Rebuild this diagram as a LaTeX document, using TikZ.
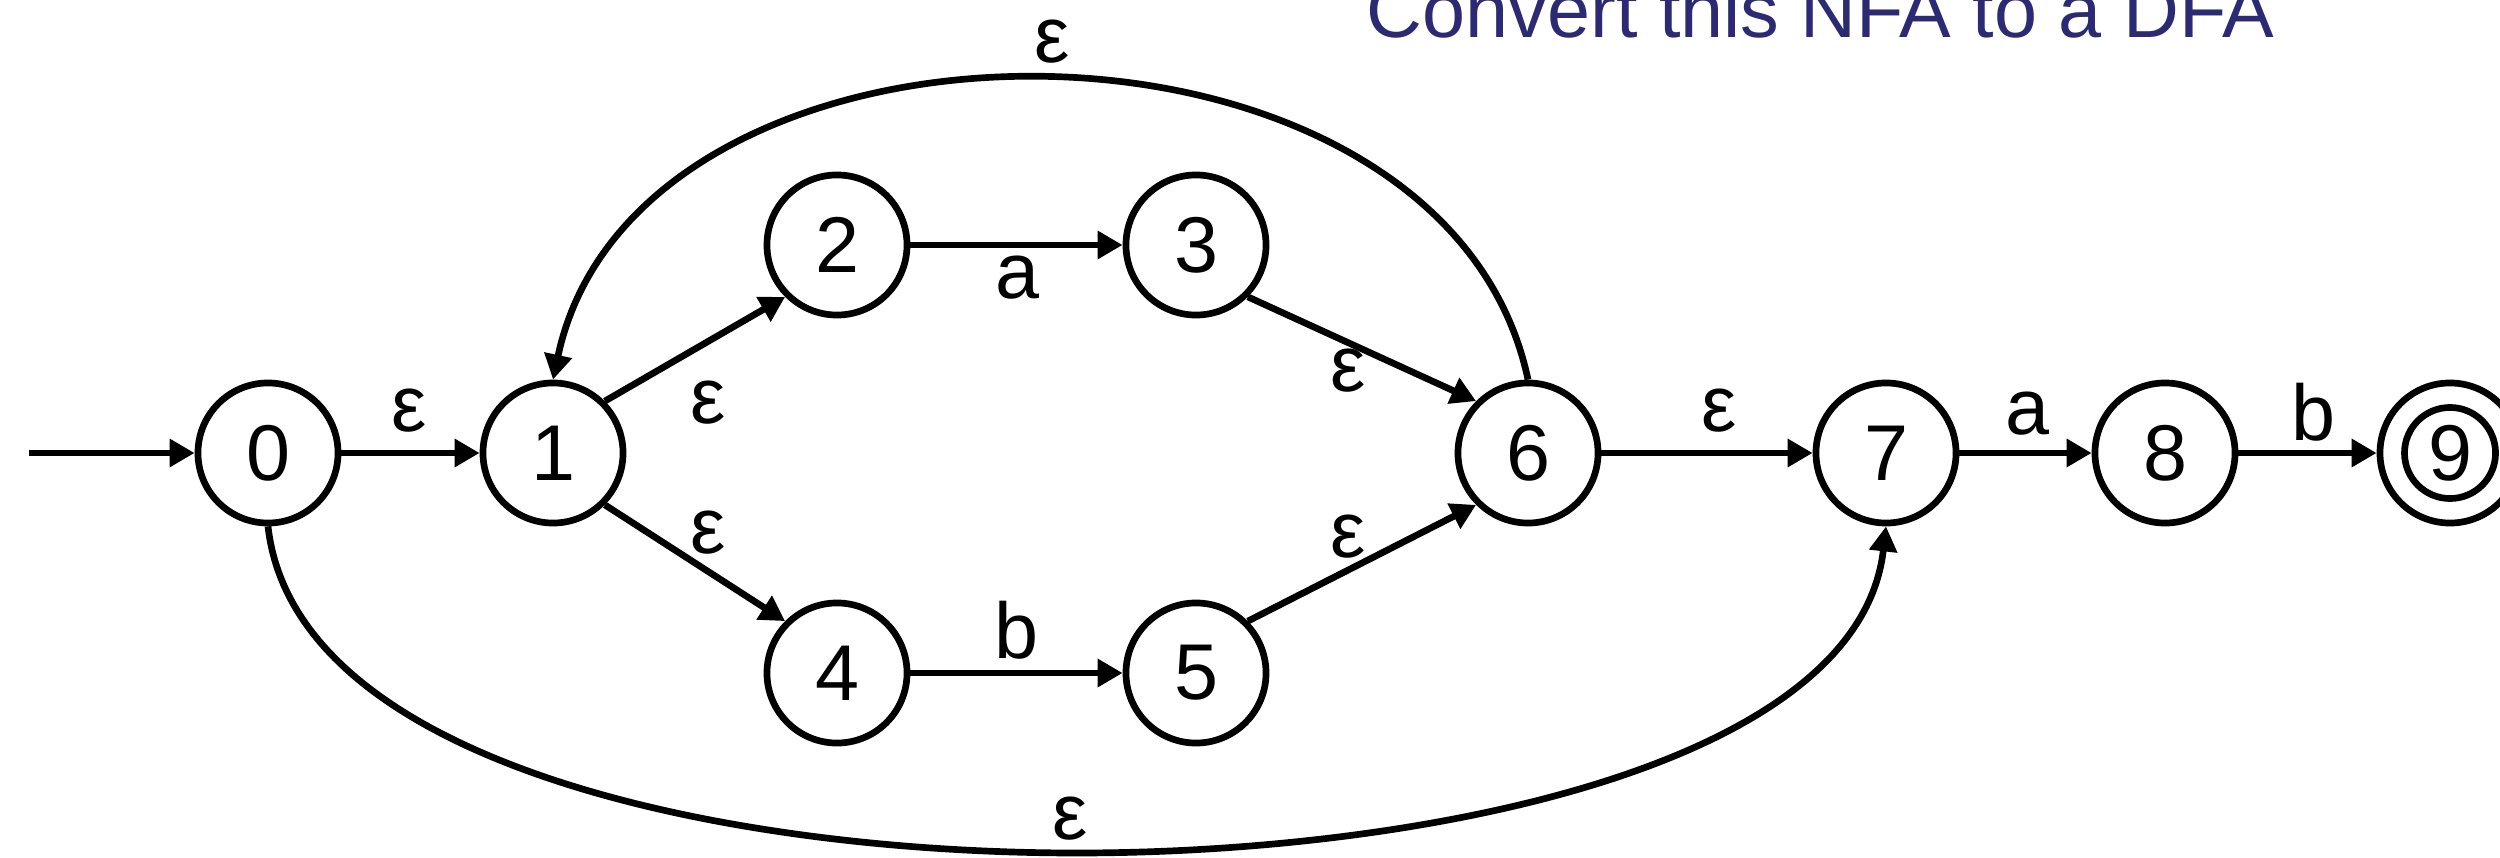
\documentclass[tikz,border=0pt]{standalone}
\usepackage{fontspec}
\setmainfont{Liberation Sans}
\usetikzlibrary{arrows.meta}
\definecolor{titleblue}{RGB}{43,42,114}
\begin{document}
\begin{tikzpicture}[x=0.01cm, y=-0.01cm,
  state/.style={circle, draw, line width=1.9pt, minimum size=1.40cm, inner sep=0pt, font=\fontsize{22.5}{27}\selectfont},
  lbl/.style={inner sep=0pt, font=\fontsize{22.5}{27}\selectfont},
  arr/.style={line width=1.9pt, -{Triangle[length=0.25cm,width=0.27cm]}},
]
\useasboundingbox (0,0) rectangle (2500,858);

\node[anchor=base west, inner sep=0pt, text=titleblue, font=\fontsize{22}{26}\selectfont] (title) at (1366,38) {Convert this NFA to a DFA};

\node[state] (n0) at (268,453) {0};
\node[state] (n1) at (553,453) {1};
\node[state] (n2) at (837,245) {2};
\node[state] (n3) at (1196,245) {3};
\node[state] (n4) at (837,673) {4};
\node[state] (n5) at (1196,673) {5};
\node[state] (n6) at (1528,453) {6};
\node[state] (n7) at (1886,453) {7};
\node[state] (n8) at (2165,453) {8};
\node[state] (n9) at (2450,453) {9};
\draw[line width=1.9pt] (n9.center) circle[radius=0.455cm];

\coordinate (start) at (29,453);
\coordinate (bot) at (1077,853);

\draw[arr] (start) -- (n0);
\draw[arr] (n0) -- (n1);
\draw[arr] (n1.north east) -- (n2.south west);
\draw[arr] (n1.south east) -- (n4.north west);
\draw[arr] (n2) -- (n3);
\draw[arr] (n4) -- (n5);
\draw[arr] (n3.south east) -- (n6.north west);
\draw[arr] (n5.north east) -- (n6.south west);
\draw[arr] (n6) -- (n7);
\draw[arr] (n7) -- (n8);
\draw[arr] (n8) -- (n9);
\draw[arr] (n6.north) .. controls (1443,-21) and (638,-21) .. (n1.north);
\draw[arr] (n0.south) .. controls (295,765) and (727,853) .. (bot)
  .. controls (1427,853) and (1859,765) .. (n7.south);

\node[lbl] (l01) at (409,411) {ε};
\node[lbl] (l12) at (708,403) {ε};
\node[lbl] (l14) at (708,533) {ε};
\node[lbl] (l23) at (1017,278) {a};
\node[lbl] (l45) at (1016,630) {b};
\node[lbl] (l36) at (1348,371) {ε};
\node[lbl] (l56) at (1348,537) {ε};
\node[lbl] (l67) at (1719,411) {ε};
\node[lbl] (l78) at (2027,414) {a};
\node[lbl] (l89) at (2313,412) {b};
\node[lbl] (ltop) at (1052,42) {ε};
\node[lbl] (lbot) at (1070,819) {ε};
\end{tikzpicture}
\end{document}
